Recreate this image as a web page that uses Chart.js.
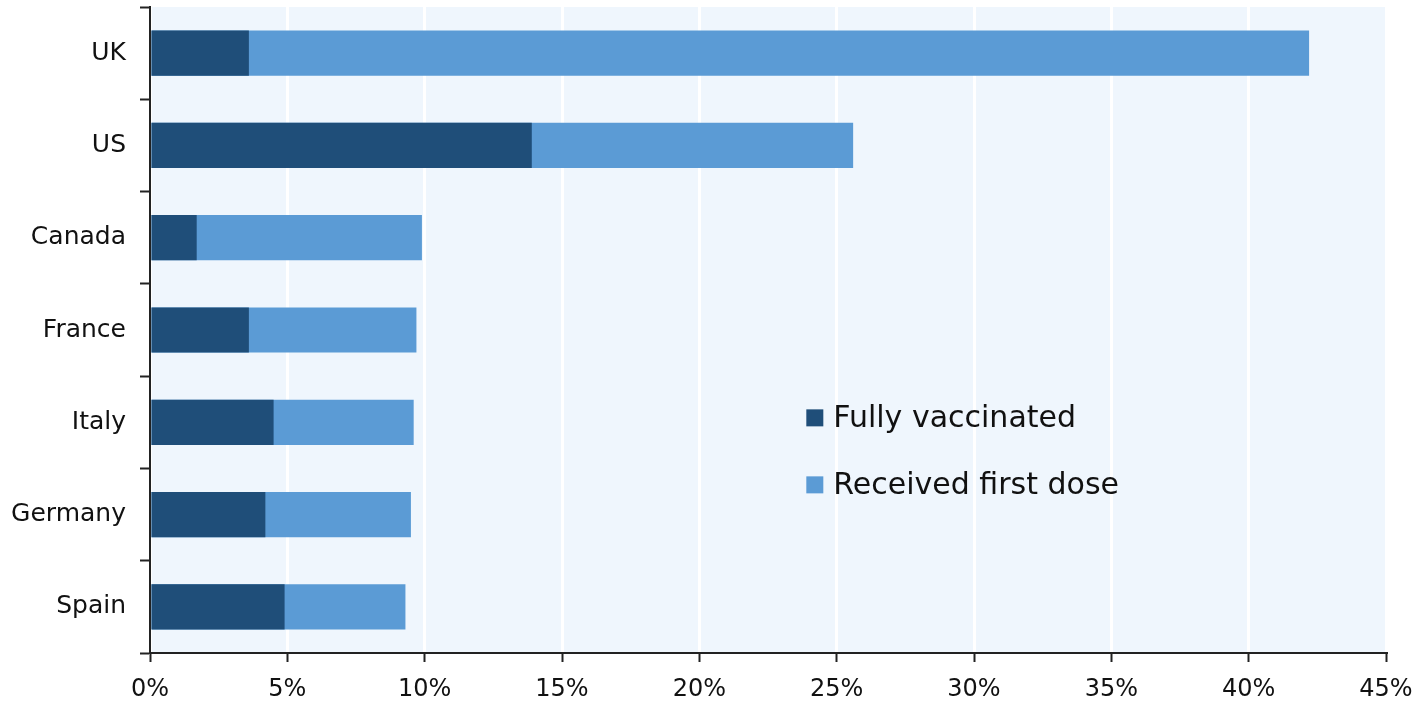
<!DOCTYPE html>
<html lang="en">
  <head>
    <meta charset="UTF-8" />
    <title>Vaccination progress</title>
    <script src="https://cdn.jsdelivr.net/npm/chart.js"></script>
    <style>
      html, body {
        margin: 0;
        padding: 0;
        background: #ffffff;
      }

      #wrap {
        width: 1418px;
        height: 705px;
      }
    </style>
  </head>

  <body>
    <div id="wrap"><canvas id="barChart"></canvas></div>

    <script>
      const countries = ["UK", "US", "Canada", "France", "Italy", "Germany", "Spain"];
      const fullyVaccinated = [3.6, 13.9, 1.7, 3.6, 4.5, 4.2, 4.9];
      const firstDose = [42.2, 25.6, 9.9, 9.7, 9.6, 9.5, 9.3];
      const xTicks = [0, 5, 10, 15, 20, 25, 30, 35, 40, 45];

      const FONT = "'DejaVu Sans', Verdana, sans-serif";

      // light blue plot background
      const plotBg = {
        id: 'plotBg',
        beforeDraw(chart) {
          const { ctx, chartArea: a } = chart;
          ctx.save();
          ctx.fillStyle = '#eff6fd';
          ctx.fillRect(a.left, a.top, a.right - a.left, a.bottom - a.top);
          ctx.restore();
        }
      };

      // legend sitting inside the plot, lower middle
      const innerLegend = {
        id: 'innerLegend',
        afterDraw(chart) {
          const { ctx, chartArea: a } = chart;
          const x = a.left + (a.right - a.left) * 0.531;
          const y0 = a.top + (a.bottom - a.top) * 0.636;
          ctx.save();
          ctx.font = '30px ' + FONT;
          ctx.textBaseline = 'middle';
          chart.data.datasets.forEach((ds, i) => {
            const y = y0 + i * 67;
            ctx.fillStyle = ds.backgroundColor;
            ctx.fillRect(x, y - 8.5, 17, 17);
            ctx.fillStyle = '#111';
            ctx.fillText(ds.label, x + 27, y + 1);
          });
          ctx.restore();
        }
      };

      new Chart(document.getElementById('barChart'), {
        type: 'bar',
        data: {
          labels: countries,
          datasets: [
            {
              label: 'Fully vaccinated',
              data: fullyVaccinated,
              backgroundColor: '#1f4e79',
              barPercentage: 1,
              categoryPercentage: 0.49
            },
            {
              label: 'Received first dose',
              data: firstDose,
              backgroundColor: '#5b9bd5',
              barPercentage: 1,
              categoryPercentage: 0.49
            }
          ]
        },
        options: {
          indexAxis: 'y',
          responsive: true,
          maintainAspectRatio: false,
          animation: false,
          layout: { padding: { top: 7, right: 32, left: 0, bottom: 0 } },
          plugins: {
            legend: { display: false },
            tooltip: { enabled: false }
          },
          scales: {
            x: {
              min: 0,
              max: 45,
              afterBuildTicks: axis => { axis.ticks = xTicks.map(v => ({ value: v })); },
              afterFit: axis => {
                axis.height = 52;
                axis.paddingLeft = 0;
                axis.paddingRight = 0;
              },
              grid: {
                color: '#ffffff',
                lineWidth: 3,
                tickColor: '#222',
                tickLength: 9,
                tickWidth: 2
              },
              border: { color: '#222', width: 2 },
              ticks: {
                padding: 13,
                color: '#111',
                font: { family: FONT, size: 24 },
                callback: v => v + '%'
              }
            },
            y: {
              stacked: true,
              afterFit: axis => {
                axis.width = 150;
                axis.paddingTop = 0;
                axis.paddingBottom = 0;
              },
              grid: {
                offset: true,
                drawOnChartArea: false,
                tickColor: '#222',
                tickLength: 10,
                tickWidth: 2
              },
              border: { color: '#222', width: 2 },
              ticks: {
                padding: 14,
                color: '#111',
                font: { family: FONT, size: 25 }
              }
            }
          }
        },
        plugins: [plotBg, innerLegend]
      });
    </script>
  </body>
</html>
